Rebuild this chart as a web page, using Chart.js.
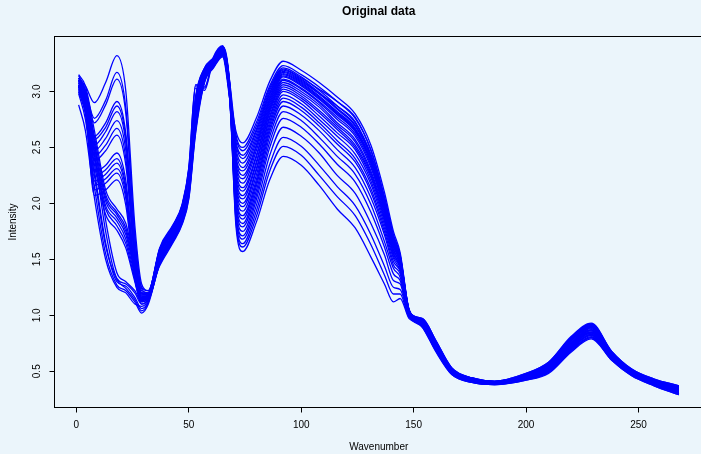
<!DOCTYPE html>
<html>
<head>
<meta charset="utf-8">
<title>Original data</title>
<script src="https://cdn.jsdelivr.net/npm/chart.js@4/dist/chart.umd.min.js"></script>
<style>
  html, body { margin: 0; padding: 0; background: #ebf5fb; overflow: hidden; }
  #wrap { position: relative; width: 720px; height: 454px; }
</style>
</head>
<body>
<div id="wrap"><canvas id="chart" width="720" height="454"></canvas></div>
<script>
// Wavenumber positions at which each spectrum is sampled
const wavenumber = [1, 4, 8, 13, 18, 22, 26, 29, 32, 37, 43, 47, 50, 53, 57, 61, 65, 68, 71, 74, 80, 86, 92,
  100, 108, 116, 124, 131, 137, 141, 144, 148, 154, 160, 167, 176, 186, 200, 210, 220, 229, 238, 247, 257, 268];

// Intensity of each spectrum
const sample01 = [2.88, 2.65, 2.05, 1.50, 1.25, 1.20, 1.10, 1.08, 1.14, 1.54, 1.75, 1.93, 2.22, 2.85, 3.17, 3.28, 3.38, 3.06, 1.79, 1.57, 1.83, 2.21, 2.42, 2.34, 2.16, 1.95, 1.78, 1.52, 1.28, 1.12, 1.15, 0.97, 0.91, 0.69, 0.48, 0.41, 0.39, 0.43, 0.50, 0.70, 0.82, 0.62, 0.47, 0.38, 0.31];
const sample02 = [3.04, 2.88, 2.28, 2.34, 2.45, 2.20, 1.42, 1.17, 1.17, 1.48, 1.69, 1.86, 2.11, 2.71, 3.12, 3.24, 3.34, 3.00, 1.83, 1.61, 1.88, 2.29, 2.51, 2.43, 2.25, 2.06, 1.89, 1.63, 1.36, 1.19, 1.19, 0.98, 0.94, 0.73, 0.51, 0.42, 0.40, 0.46, 0.54, 0.75, 0.87, 0.65, 0.50, 0.41, 0.34];
const sample03 = [3.10, 2.98, 2.55, 2.05, 1.90, 1.75, 1.40, 1.15, 1.18, 1.58, 1.79, 1.97, 2.29, 2.94, 3.21, 3.30, 3.40, 3.10, 1.85, 1.64, 1.93, 2.35, 2.59, 2.51, 2.34, 2.15, 1.98, 1.72, 1.44, 1.25, 1.23, 0.99, 0.89, 0.68, 0.47, 0.40, 0.38, 0.42, 0.49, 0.68, 0.80, 0.60, 0.46, 0.37, 0.29];
const sample04 = [3.00, 2.82, 2.12, 2.18, 2.27, 2.04, 1.35, 1.15, 1.15, 1.50, 1.71, 1.88, 2.15, 2.76, 3.14, 3.25, 3.35, 3.02, 1.89, 1.68, 1.98, 2.43, 2.68, 2.60, 2.45, 2.25, 2.09, 1.82, 1.54, 1.31, 1.28, 0.99, 0.95, 0.75, 0.52, 0.43, 0.40, 0.47, 0.56, 0.78, 0.90, 0.66, 0.51, 0.42, 0.35];
const sample05 = [3.10, 2.97, 2.57, 2.68, 2.87, 2.58, 1.58, 1.20, 1.20, 1.56, 1.77, 1.95, 2.25, 3.03, 3.01, 3.29, 3.39, 3.08, 1.91, 1.71, 2.03, 2.50, 2.76, 2.68, 2.53, 2.35, 2.19, 1.92, 1.61, 1.37, 1.31, 1.00, 0.92, 0.71, 0.49, 0.41, 0.39, 0.44, 0.52, 0.72, 0.84, 0.63, 0.48, 0.39, 0.32];
const sample06 = [2.98, 2.75, 2.15, 1.55, 1.27, 1.22, 1.12, 1.02, 1.10, 1.46, 1.67, 1.83, 2.07, 2.66, 3.09, 3.22, 3.32, 2.98, 1.95, 1.75, 2.07, 2.55, 2.82, 2.74, 2.59, 2.42, 2.26, 1.99, 1.66, 1.42, 1.34, 1.01, 0.96, 0.76, 0.52, 0.44, 0.41, 0.47, 0.57, 0.80, 0.92, 0.67, 0.51, 0.42, 0.36];
const sample07 = [3.04, 2.90, 2.40, 1.95, 1.80, 1.64, 1.32, 1.12, 1.16, 1.53, 1.74, 1.91, 2.19, 2.82, 3.16, 3.27, 3.37, 3.05, 1.98, 1.79, 2.11, 2.60, 2.87, 2.79, 2.65, 2.48, 2.32, 2.05, 1.72, 1.45, 1.37, 1.01, 0.93, 0.72, 0.50, 0.42, 0.40, 0.45, 0.53, 0.74, 0.86, 0.64, 0.49, 0.40, 0.33];
const sample08 = [3.06, 2.92, 2.42, 2.52, 2.67, 2.40, 1.50, 1.19, 1.18, 1.57, 1.78, 1.95, 2.26, 2.91, 3.19, 3.29, 3.39, 3.09, 2.01, 1.82, 2.15, 2.64, 2.91, 2.83, 2.69, 2.53, 2.37, 2.10, 1.75, 1.48, 1.39, 1.02, 0.91, 0.70, 0.49, 0.41, 0.39, 0.44, 0.51, 0.71, 0.83, 0.62, 0.48, 0.39, 0.31];
const sample09 = [3.02, 2.85, 2.20, 2.26, 2.36, 2.12, 1.38, 1.16, 1.16, 1.47, 1.68, 1.85, 2.10, 2.69, 3.11, 3.23, 3.33, 2.99, 2.05, 1.86, 2.18, 2.67, 2.94, 2.86, 2.72, 2.56, 2.40, 2.13, 1.78, 1.51, 1.40, 1.02, 0.95, 0.75, 0.52, 0.43, 0.40, 0.47, 0.56, 0.78, 0.90, 0.66, 0.51, 0.42, 0.35];
const sample10 = [3.15, 3.05, 2.65, 2.12, 1.95, 1.82, 1.45, 1.18, 1.20, 1.59, 1.80, 1.98, 2.31, 3.05, 3.03, 3.30, 3.40, 3.11, 2.07, 1.89, 2.21, 2.70, 2.97, 2.89, 2.75, 2.60, 2.44, 2.17, 1.81, 1.53, 1.42, 1.02, 0.92, 0.71, 0.49, 0.42, 0.39, 0.44, 0.52, 0.73, 0.85, 0.63, 0.48, 0.39, 0.32];
const sample11 = [3.14, 3.02, 2.72, 2.88, 3.11, 2.80, 1.68, 1.24, 1.20, 1.51, 1.72, 1.89, 2.17, 2.78, 3.14, 3.26, 3.36, 3.03, 2.11, 1.93, 2.25, 2.73, 3.00, 2.92, 2.78, 2.63, 2.48, 2.20, 1.84, 1.55, 1.43, 1.02, 0.97, 0.77, 0.53, 0.44, 0.41, 0.48, 0.58, 0.80, 0.92, 0.68, 0.52, 0.43, 0.37];
const sample12 = [3.00, 2.80, 2.25, 1.62, 1.32, 1.24, 1.14, 1.04, 1.12, 1.55, 1.76, 1.94, 2.24, 2.87, 3.18, 3.28, 3.38, 3.07, 2.14, 1.97, 2.29, 2.76, 3.02, 2.94, 2.81, 2.66, 2.50, 2.23, 1.86, 1.56, 1.44, 1.03, 0.90, 0.69, 0.48, 0.41, 0.39, 0.43, 0.50, 0.69, 0.81, 0.61, 0.47, 0.38, 0.30];
const sample13 = [3.04, 2.84, 2.07, 2.12, 2.21, 1.98, 1.32, 1.14, 1.15, 1.45, 1.66, 1.82, 2.05, 2.64, 3.09, 3.22, 3.32, 2.97, 2.17, 2.00, 2.31, 2.78, 3.04, 2.96, 2.83, 2.68, 2.52, 2.25, 1.88, 1.58, 1.45, 1.03, 0.94, 0.74, 0.51, 0.43, 0.40, 0.46, 0.55, 0.76, 0.88, 0.65, 0.50, 0.41, 0.34];
const sample14 = [3.08, 2.95, 2.50, 2.02, 1.87, 1.72, 1.38, 1.14, 1.18, 1.54, 1.75, 1.92, 2.21, 2.84, 3.16, 3.27, 3.37, 3.06, 2.20, 2.04, 2.35, 2.81, 3.06, 2.98, 2.86, 2.70, 2.55, 2.27, 1.90, 1.59, 1.46, 1.03, 0.93, 0.72, 0.50, 0.42, 0.39, 0.45, 0.53, 0.73, 0.85, 0.64, 0.49, 0.40, 0.33];
const sample15 = [3.12, 2.98, 2.47, 2.58, 2.74, 2.47, 1.52, 1.20, 1.19, 1.49, 1.70, 1.86, 2.12, 2.73, 3.12, 3.24, 3.34, 3.01, 2.23, 2.07, 2.37, 2.83, 3.08, 3.00, 2.88, 2.72, 2.57, 2.29, 1.92, 1.61, 1.47, 1.03, 0.96, 0.76, 0.52, 0.43, 0.41, 0.47, 0.57, 0.79, 0.91, 0.67, 0.51, 0.42, 0.36];
const sample16 = [3.12, 3.05, 2.90, 3.08, 3.32, 3.00, 1.80, 1.28, 1.22, 1.58, 1.79, 1.96, 2.28, 2.93, 3.20, 3.30, 3.40, 3.10, 2.27, 2.11, 2.41, 2.85, 3.10, 3.02, 2.90, 2.75, 2.60, 2.32, 1.94, 1.62, 1.48, 1.03, 0.91, 0.70, 0.49, 0.41, 0.39, 0.44, 0.51, 0.71, 0.83, 0.62, 0.48, 0.39, 0.31];
const sample17 = [3.05, 2.85, 2.30, 1.65, 1.30, 1.26, 1.16, 1.06, 1.12, 1.46, 1.67, 1.84, 2.08, 2.67, 3.10, 3.23, 3.33, 2.98, 2.29, 2.14, 2.43, 2.87, 3.11, 3.03, 2.91, 2.77, 2.62, 2.34, 1.95, 1.63, 1.48, 1.03, 0.97, 0.77, 0.53, 0.44, 0.41, 0.48, 0.58, 0.81, 0.93, 0.68, 0.52, 0.43, 0.37];
const sample18 = [3.08, 2.90, 2.24, 2.30, 2.40, 2.15, 1.40, 1.16, 1.17, 1.52, 1.73, 1.90, 2.18, 2.80, 3.15, 3.26, 3.36, 3.04, 2.33, 2.18, 2.47, 2.89, 3.13, 3.05, 2.93, 2.79, 2.64, 2.36, 1.96, 1.65, 1.49, 1.04, 0.90, 0.68, 0.48, 0.40, 0.38, 0.43, 0.49, 0.68, 0.80, 0.61, 0.47, 0.38, 0.30];
const sample19 = [3.02, 2.85, 2.35, 1.90, 1.76, 1.60, 1.30, 1.10, 1.16, 1.60, 1.81, 1.99, 2.32, 3.06, 3.04, 3.31, 3.41, 3.12, 2.36, 2.22, 2.50, 2.91, 3.14, 3.06, 2.94, 2.80, 2.65, 2.37, 1.97, 1.65, 1.50, 1.04, 0.93, 0.73, 0.50, 0.42, 0.40, 0.45, 0.54, 0.75, 0.87, 0.64, 0.49, 0.40, 0.33];
const sample20 = [3.08, 2.96, 2.60, 2.72, 2.91, 2.62, 1.60, 1.22, 1.20, 1.50, 1.71, 1.87, 2.14, 2.75, 3.13, 3.25, 3.35, 3.02, 2.39, 2.25, 2.52, 2.93, 3.15, 3.07, 2.95, 2.81, 2.66, 2.38, 1.98, 1.66, 1.50, 1.04, 0.95, 0.74, 0.51, 0.43, 0.40, 0.46, 0.55, 0.77, 0.89, 0.66, 0.50, 0.41, 0.35];
const sample21 = [3.06, 2.87, 2.16, 2.22, 2.31, 2.08, 1.36, 1.15, 1.16, 1.56, 1.77, 1.94, 2.24, 2.88, 3.18, 3.28, 3.38, 3.08, 2.42, 2.29, 2.55, 2.94, 3.16, 3.08, 2.96, 2.82, 2.67, 2.39, 1.99, 1.67, 1.51, 1.04, 0.89, 0.67, 0.47, 0.40, 0.38, 0.42, 0.48, 0.67, 0.79, 0.60, 0.46, 0.37, 0.29];
const sample22 = [3.12, 3.00, 2.60, 2.08, 1.92, 1.78, 1.42, 1.16, 1.19, 1.44, 1.65, 1.81, 2.04, 2.62, 3.08, 3.21, 3.31, 2.96, 2.45, 2.32, 2.58, 2.96, 3.17, 3.09, 2.98, 2.87, 2.73, 2.42, 2.01, 1.68, 1.51, 1.04, 0.95, 0.75, 0.52, 0.43, 0.40, 0.47, 0.56, 0.78, 0.90, 0.66, 0.51, 0.42, 0.35];
const sample23 = [3.10, 2.95, 2.45, 1.75, 1.33, 1.28, 1.20, 1.10, 1.15, 1.54, 1.75, 1.92, 2.22, 2.85, 3.17, 3.27, 3.37, 3.06, 2.49, 2.36, 2.61, 2.98, 3.18, 3.10, 2.98, 2.84, 2.69, 2.41, 2.01, 1.68, 1.52, 1.04, 0.92, 0.71, 0.49, 0.41, 0.39, 0.44, 0.52, 0.72, 0.84, 0.63, 0.48, 0.39, 0.32];
const sample24 = [3.10, 2.95, 2.38, 2.47, 2.61, 2.34, 1.48, 1.18, 1.18, 1.48, 1.69, 1.85, 2.10, 2.70, 3.11, 3.23, 3.33, 3.00, 2.52, 2.40, 2.64, 2.99, 3.19, 3.11, 2.99, 2.85, 2.70, 2.42, 2.02, 1.69, 1.52, 1.04, 0.94, 0.73, 0.51, 0.42, 0.40, 0.46, 0.54, 0.75, 0.87, 0.65, 0.50, 0.41, 0.34];
const sample25 = [3.10, 3.00, 2.76, 2.92, 3.17, 2.85, 1.72, 1.25, 1.22, 1.57, 1.78, 1.96, 2.27, 2.92, 3.20, 3.29, 3.39, 3.09, 2.55, 2.43, 2.66, 3.01, 3.20, 3.12, 3.02, 2.91, 2.77, 2.47, 2.05, 1.70, 1.53, 1.04, 0.91, 0.69, 0.48, 0.41, 0.39, 0.43, 0.50, 0.70, 0.82, 0.62, 0.47, 0.38, 0.31];
const sample26 = [3.06, 2.92, 2.45, 1.98, 1.84, 1.68, 1.35, 1.13, 1.17, 1.51, 1.72, 1.89, 2.16, 2.77, 3.14, 3.25, 3.35, 3.03, 2.58, 2.47, 2.69, 3.03, 3.21, 3.13, 3.01, 2.87, 2.72, 2.44, 2.04, 1.71, 1.53, 1.04, 0.96, 0.76, 0.52, 0.44, 0.41, 0.47, 0.57, 0.80, 0.92, 0.67, 0.51, 0.42, 0.36];
const sample27 = [3.05, 2.93, 2.52, 2.64, 2.82, 2.54, 1.55, 1.20, 1.19, 1.59, 1.80, 1.98, 2.30, 2.95, 3.21, 3.30, 3.40, 3.11, 2.61, 2.50, 2.72, 3.05, 3.23, 3.15, 3.04, 2.91, 2.76, 2.48, 2.06, 1.72, 1.54, 1.05, 0.92, 0.71, 0.49, 0.42, 0.39, 0.44, 0.52, 0.73, 0.85, 0.63, 0.48, 0.39, 0.32];
const sample28 = [3.12, 3.00, 2.55, 1.85, 1.38, 1.30, 1.22, 1.12, 1.17, 1.49, 1.70, 1.87, 2.13, 2.74, 3.13, 3.24, 3.34, 3.01, 2.64, 2.54, 2.76, 3.09, 3.27, 3.19, 3.08, 2.95, 2.80, 2.52, 2.10, 1.75, 1.56, 1.05, 0.94, 0.74, 0.51, 0.43, 0.40, 0.46, 0.55, 0.77, 0.89, 0.65, 0.50, 0.41, 0.34];

const samples = [sample01, sample02, sample03, sample04, sample05, sample06, sample07, sample08, sample09, sample10,
  sample11, sample12, sample13, sample14, sample15, sample16, sample17, sample18, sample19, sample20,
  sample21, sample22, sample23, sample24, sample25, sample26, sample27, sample28];

// Axis ticks and labels
const xTicks = [0, 50, 100, 150, 200, 250];
const xTickLabels = ['0', '50', '100', '150', '200', '250'];
const yTicks = [0.5, 1.0, 1.5, 2.0, 2.5, 3.0];
const yTickLabels = ['0.5', '1.0', '1.5', '2.0', '2.5', '3.0'];

const titleText = 'Original data';
const xTitle = 'Wavenumber';
const yTitle = 'Intensity';

const FONT = '"Liberation Sans", Arial, Helvetica, sans-serif';
const BG = '#ebf5fb';

const datasets = samples.map((vals, i) => ({
  label: 'sample ' + (i + 1),
  data: vals.map((v, j) => ({ x: wavenumber[j], y: v })),
  borderColor: '#0000ff',
  borderWidth: 1.3,
  pointRadius: 0,
  fill: false,
  cubicInterpolationMode: 'monotone'
}));

// Plot frame, title, y tick labels and axis titles in base-graphics style
const frame = {
  id: 'frame',
  beforeDraw(chart) {
    const ctx = chart.ctx;
    ctx.save();
    ctx.fillStyle = BG;
    ctx.fillRect(0, 0, chart.width, chart.height);
    ctx.restore();
  },
  afterDraw(chart) {
    const { ctx, chartArea: a, scales } = chart;
    const y = scales.y;
    ctx.save();
    ctx.strokeStyle = '#000';
    ctx.lineWidth = 1;
    ctx.strokeRect(a.left, a.top, a.right - a.left, a.bottom - a.top);

    ctx.fillStyle = '#000';
    ctx.textAlign = 'center';
    ctx.textBaseline = 'middle';
    ctx.font = 'bold 12px ' + FONT;
    ctx.fillText(titleText, (a.left + a.right) / 2, 12);

    ctx.font = '10px ' + FONT;
    yTicks.forEach((v, i) => {
      ctx.save();
      ctx.translate(37.5, y.getPixelForValue(v));
      ctx.rotate(-Math.PI / 2);
      ctx.fillText(yTickLabels[i], 0, 0);
      ctx.restore();
    });

    ctx.fillText(xTitle, (a.left + a.right) / 2, 447);
    ctx.save();
    ctx.translate(13, (a.top + a.bottom) / 2);
    ctx.rotate(-Math.PI / 2);
    ctx.fillText(yTitle, 0, 0);
    ctx.restore();
    ctx.restore();
  }
};

new Chart(document.getElementById('chart'), {
  type: 'line',
  data: { datasets },
  options: {
    responsive: false,
    animation: false,
    devicePixelRatio: 1,
    layout: { padding: { top: 36.5, right: 17, left: 0, bottom: 0 } },
    plugins: { legend: { display: false }, tooltip: { enabled: false }, title: { display: false } },
    scales: {
      x: {
        type: 'linear',
        min: -9.74,
        max: 278.7,
        afterBuildTicks: s => { s.ticks = xTicks.map(v => ({ value: v })); },
        afterFit: s => { s.height = 46.5; },
        border: { display: false },
        grid: { drawOnChartArea: false, drawTicks: true, tickLength: 5, color: '#000' },
        ticks: {
          autoSkip: false,
          maxRotation: 0,
          padding: 6.5,
          color: '#000',
          font: { family: FONT, size: 10 },
          callback: (v, i) => xTickLabels[i]
        }
      },
      y: {
        type: 'linear',
        min: 0.176,
        max: 3.491,
        afterBuildTicks: s => { s.ticks = yTicks.map(v => ({ value: v })); },
        afterFit: s => { s.width = 54.5; },
        border: { display: false },
        grid: { drawOnChartArea: false, drawTicks: true, tickLength: 5, color: '#000' },
        ticks: { display: false }
      }
    }
  },
  plugins: [frame]
});
</script>
</body>
</html>
